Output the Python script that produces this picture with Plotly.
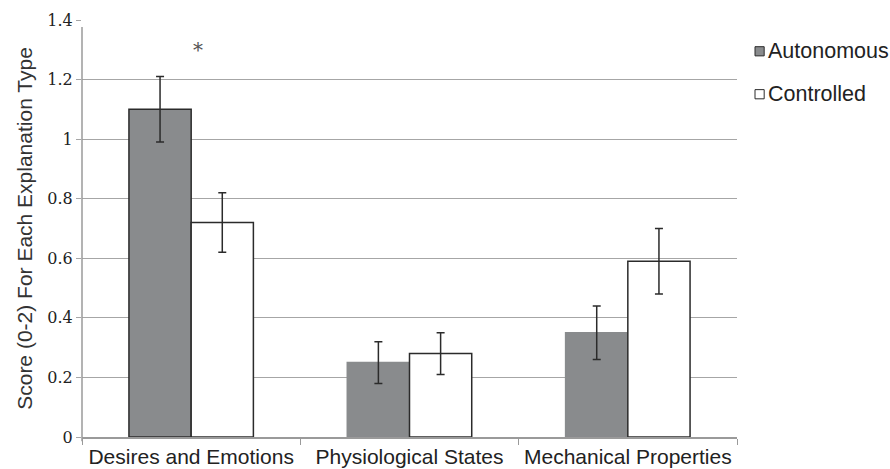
import plotly.graph_objects as go

categories = ["Desires and Emotions", "Physiological States", "Mechanical Properties"]
autonomous = [1.10, 0.25, 0.35]
autonomous_err = [0.11, 0.07, 0.09]
controlled = [0.72, 0.28, 0.59]
controlled_err = [0.10, 0.07, 0.11]
y_ticks = [0, 0.2, 0.4, 0.6, 0.8, 1, 1.2, 1.4]
y_tick_text = ["0", "0.2", "0.4", "0.6", "0.8", "1", "1.2", "1.4"]
series_names = ["Autonomous", "Controlled"]
series_fills = ["#898b8d", "white"]

dark = "#2b2b2b"
grid = "#a6a6a6"
axis_gray = "#9a9a9a"

fig = go.Figure()
fig.add_trace(go.Bar(
    name=series_names[0], x=categories, y=autonomous,
    marker=dict(color=series_fills[0], line=dict(color=[dark, series_fills[0], series_fills[0]], width=1.5)),
    error_y=dict(type="data", array=autonomous_err, color=dark, thickness=1.5, width=4),
))
fig.add_trace(go.Bar(
    name=series_names[1], x=categories, y=controlled,
    marker=dict(color=series_fills[1], line=dict(color=dark, width=1.5)),
    error_y=dict(type="data", array=controlled_err, color=dark, thickness=1.5, width=4),
))

fig.add_annotation(x=0, y=1.30, xshift=7, text="*", showarrow=False,
                   font=dict(family="DejaVu Serif", size=20, color="#555"))

# Vertical axis rule, stopping a little short of the top gridline
fig.add_shape(type="line", xref="paper", yref="paper", x0=0, x1=0, y0=-0.01, y1=0.983,
              line=dict(color=axis_gray, width=1.5))

# Legend drawn as small boxed swatches with labels to the right of the plot area
legend_rows = [0.925, 0.822]
for name, fill, yc in zip(series_names, series_fills, legend_rows):
    fig.add_shape(type="rect", xref="paper", yref="paper",
                  x0=1.0275, x1=1.0415, y0=yc - 0.011, y1=yc + 0.011,
                  fillcolor=fill, line=dict(color=dark, width=1))
    fig.add_annotation(xref="paper", yref="paper", x=1.045, y=yc,
                       xanchor="left", yanchor="middle", showarrow=False,
                       text=name, font=dict(family="Liberation Sans", size=21.5, color="#222"))

fig.update_layout(
    width=890, height=469,
    margin=dict(l=82, r=153, t=20, b=32),
    paper_bgcolor="white", plot_bgcolor="white",
    barmode="group", bargap=0.43, bargroupgap=0,
    showlegend=False,
    font=dict(family="Liberation Sans", size=21, color="#222"),
    xaxis=dict(showline=True, linecolor=axis_gray, linewidth=1.5, automargin=False,
               ticks="outside", tickson="boundaries", ticklen=6, tickcolor=axis_gray,
               tickfont=dict(family="Liberation Sans", size=21, color="#222")),
    yaxis=dict(range=[0, 1.4], tickvals=y_ticks, ticktext=y_tick_text, automargin=False,
               showgrid=True, gridcolor=grid, gridwidth=1,
               showline=False,
               ticks="outside", ticklen=5, tickcolor=grid,
               tickfont=dict(family="DejaVu Serif", size=16, color="#222"),
               zeroline=False,
               title=dict(text="Score (0-2) For Each Explanation Type",
                          font=dict(family="Liberation Sans", size=21, color="#333"),
                          standoff=8)),
)

fig.write_html("out.html")
